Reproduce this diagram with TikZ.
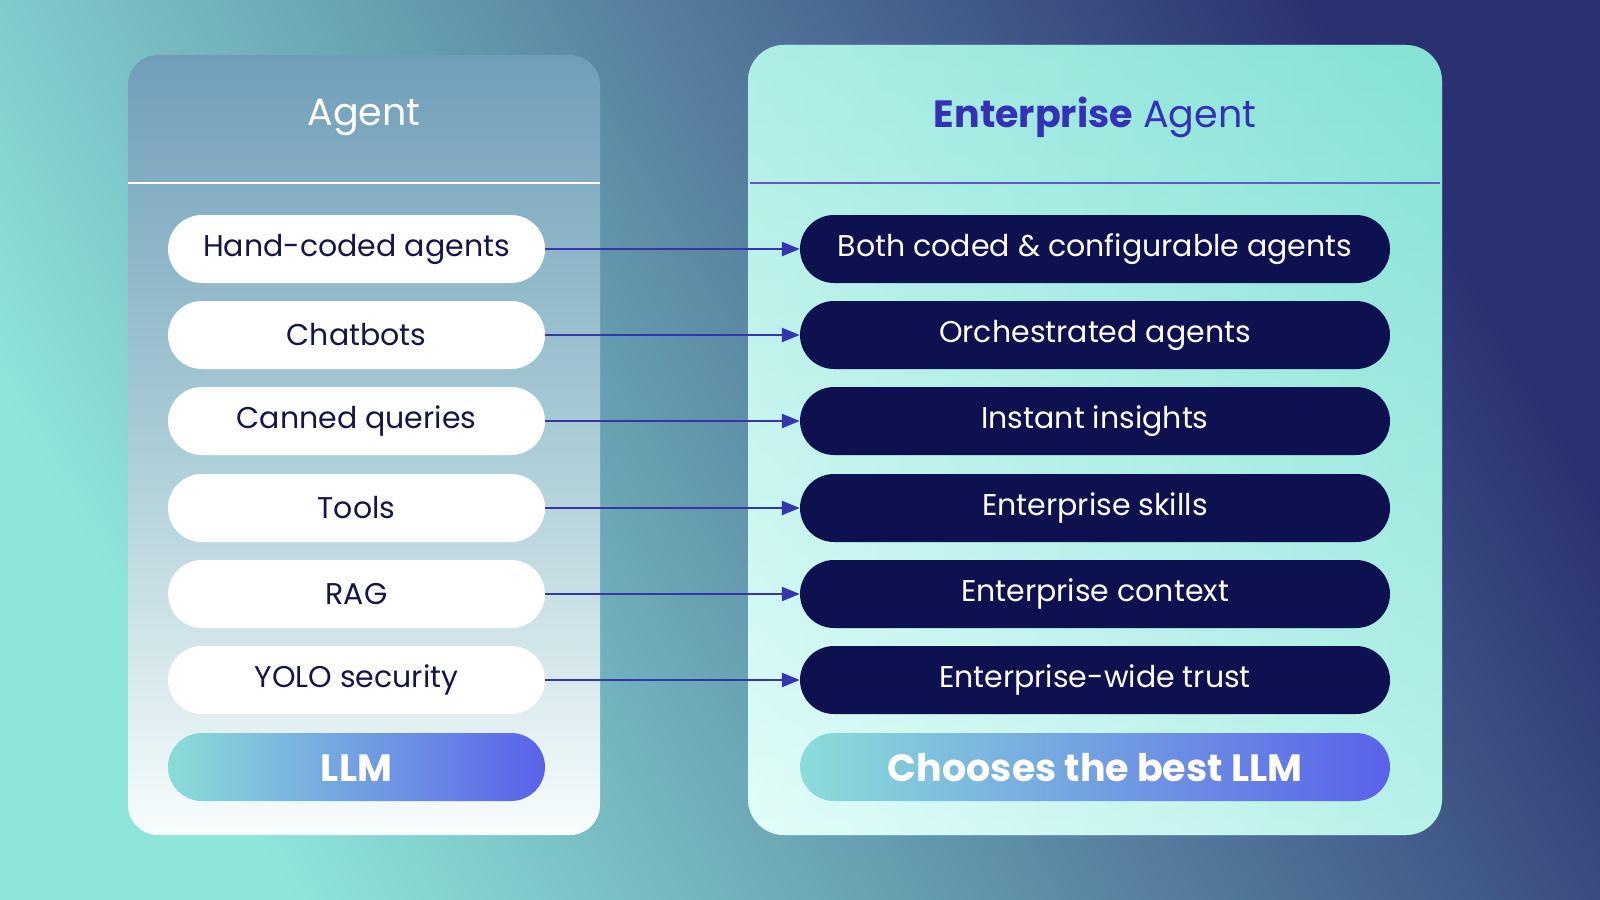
\documentclass[tikz,border=0pt]{standalone}
\usepackage{fontspec}
\setmainfont{Poppins}
\usetikzlibrary{arrows.meta}
\definecolor{bgA}{HTML}{8EE6DA}
\definecolor{bgB}{HTML}{2B3170}
\definecolor{navy}{HTML}{0D1150}
\definecolor{ink}{HTML}{14164A}
\definecolor{arr}{HTML}{3535B0}
\definecolor{hdr}{HTML}{3530B8}
\definecolor{llmA}{HTML}{8ADDD8}
\definecolor{llmB}{HTML}{5A62EA}
\tikzset{x=1pt,y=-1pt,
 lpill/.style={rounded corners=34pt,fill=white,minimum width=377pt,minimum height=68pt,text=ink,font=\fontsize{30}{30}\selectfont},
 rpill/.style={rounded corners=34pt,fill=navy,minimum width=590pt,minimum height=68pt,text=white,font=\fontsize{30}{30}\selectfont},
 conn/.style={draw=arr,line width=2.4pt,-{Triangle[length=18pt,width=14pt]}}}
\begin{document}
\begin{tikzpicture}
\useasboundingbox (0,0) rectangle (1600,899);
\shade[shading=axis,left color=bgA,right color=bgB,shading angle=120] (0,0) rectangle (1600,899);
% left panel
\shade[rounded corners=30pt,top color={rgb,255:red,112;green,158;blue,185},bottom color={rgb,255:red,248;green,253;blue,253},middle color={rgb,255:red,170;green,205;blue,214}] (128,55) rectangle (600,835);
\draw[white,line width=1.5pt] (128,183) -- (600,183);
\node[text=white,font=\fontsize{38}{38}\selectfont] (lh) at (364,117) {Agent};
% right panel
\shade[rounded corners=36pt,left color={rgb,255:red,225;green,252;blue,248},right color={rgb,255:red,120;green,222;blue,208}] (748,45) rectangle (1442,835);
\shade[rounded corners=36pt,top color={rgb,255:red,140;green,228;blue,216},bottom color={rgb,255:red,226;green,253;blue,250},opacity=0.6] (748,45) rectangle (1442,835);
\draw[hdr!80,line width=1.5pt] (750,183) -- (1440,183);
\node[text=hdr,font=\fontsize{38}{38}\selectfont] (rh) at (1095,117) {\textbf{Enterprise} Agent};
% pills
\foreach \i/\l/\r [count=\k] in {249/Hand-coded agents/Both coded \& configurable agents,335/Chatbots/Orchestrated agents,421/Canned queries/Instant insights,508/Tools/Enterprise skills,594/RAG/Enterprise context,680/YOLO security/Enterprise-wide trust}{
 \node[lpill] (l\k) at (356.5,\i) {\l};
 \node[rpill] (r\k) at (1095,\i) {\r};
 \draw[conn] (l\k.east) -- (r\k.west);
}
\shade[rounded corners=34pt,left color=llmA,right color=llmB] (168,733) rectangle (545,801);
\node[text=white,font=\fontsize{38}{38}\selectfont\bfseries] (llm) at (356.5,768) {LLM};
\shade[rounded corners=34pt,left color=llmA,right color=llmB] (800,733) rectangle (1390,801);
\node[text=white,font=\fontsize{38}{38}\selectfont\bfseries] (best) at (1095,768) {Chooses the best LLM};
\end{tikzpicture}
\end{document}
